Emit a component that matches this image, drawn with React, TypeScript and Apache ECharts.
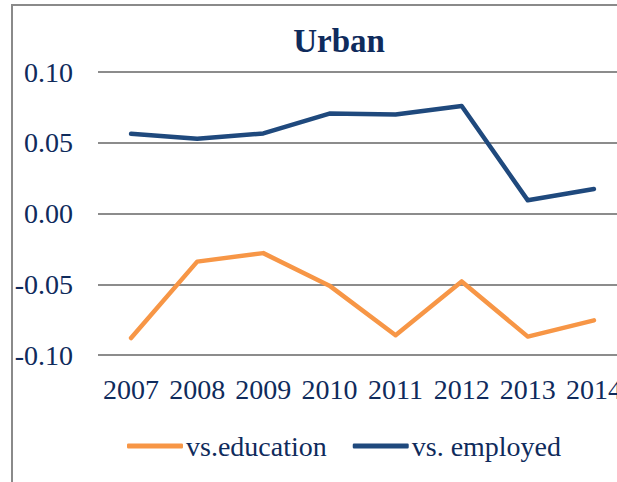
import React, { useEffect, useRef } from "react";
import * as echarts from "echarts";

const years = ["2007", "2008", "2009", "2010", "2011", "2012", "2013", "2014"];
const vsEducation = [-0.088, -0.034, -0.028, -0.051, -0.086, -0.048, -0.087, -0.0755];
const vsEmployed = [0.0563, 0.0528, 0.0566, 0.0706, 0.0699, 0.076, 0.0093, 0.0173];
const yTicks = { min: -0.1, max: 0.1, interval: 0.05 };

const TEXT = "#0f2b5c";
const FONT = "Liberation Serif";

export default function App() {
  const ref = useRef<HTMLDivElement>(null);
  useEffect(() => {
    if (!ref.current) return;
    document.body.style.margin = "0";
    const chart = echarts.init(ref.current, undefined, { renderer: "svg" });
    chart.setOption({
      animation: false,
      backgroundColor: "#ffffff",
      title: {
        text: "Urban",
        left: 334,
        top: 19,
        textAlign: "center",
        textStyle: { fontFamily: FONT, fontSize: 33, fontWeight: "bold", color: TEXT },
      },
      graphic: [
        {
          type: "rect",
          shape: { x: 12, y: 5, width: 700, height: 600 },
          style: { fill: "none", stroke: "#8a8a8a", lineWidth: 2 },
          silent: true,
          z: -1,
        },
      ],
      grid: { left: 98, right: 13, top: 72, bottom: 127, containLabel: false },
      legend: {
        left: 122,
        top: 427,
        itemWidth: 56,
        itemHeight: 5,
        itemGap: 26,
        icon: "roundRect",
        textStyle: { fontFamily: FONT, fontSize: 28, color: TEXT, padding: [0, 0, 0, -2] },
        data: ["vs.education", "vs. employed"],
      },
      xAxis: {
        type: "category",
        data: years,
        boundaryGap: true,
        axisLine: { show: false },
        axisTick: { show: false },
        axisLabel: { fontFamily: FONT, fontSize: 28, color: TEXT, margin: 20, interval: 0 },
      },
      yAxis: {
        type: "value",
        min: yTicks.min,
        max: yTicks.max,
        interval: yTicks.interval,
        axisLine: { show: false },
        axisTick: { show: false },
        axisLabel: {
          fontFamily: FONT,
          fontSize: 28,
          color: TEXT,
          margin: 25,
          formatter: (v: number) => v.toFixed(2),
        },
        splitLine: { show: true, lineStyle: { color: "#8c8c8c", width: 2 } },
      },
      series: [
        {
          name: "vs.education",
          type: "line",
          data: vsEducation,
          symbol: "none",
          lineStyle: { color: "#F79646", width: 4.5, cap: "round", join: "round" },
          itemStyle: { color: "#F79646" },
        },
        {
          name: "vs. employed",
          type: "line",
          data: vsEmployed,
          symbol: "none",
          lineStyle: { color: "#1F497D", width: 4.5, cap: "round", join: "round" },
          itemStyle: { color: "#1F497D" },
        },
      ],
    });
    return () => chart.dispose();
  }, []);
  return (
    <div
      style={{
        position: "fixed",
        left: 0,
        top: 0,
        width: 617,
        height: 482,
        overflow: "hidden",
      }}
    >
      <div ref={ref} style={{ width: 640, height: 482 }} />
    </div>
  );
}
